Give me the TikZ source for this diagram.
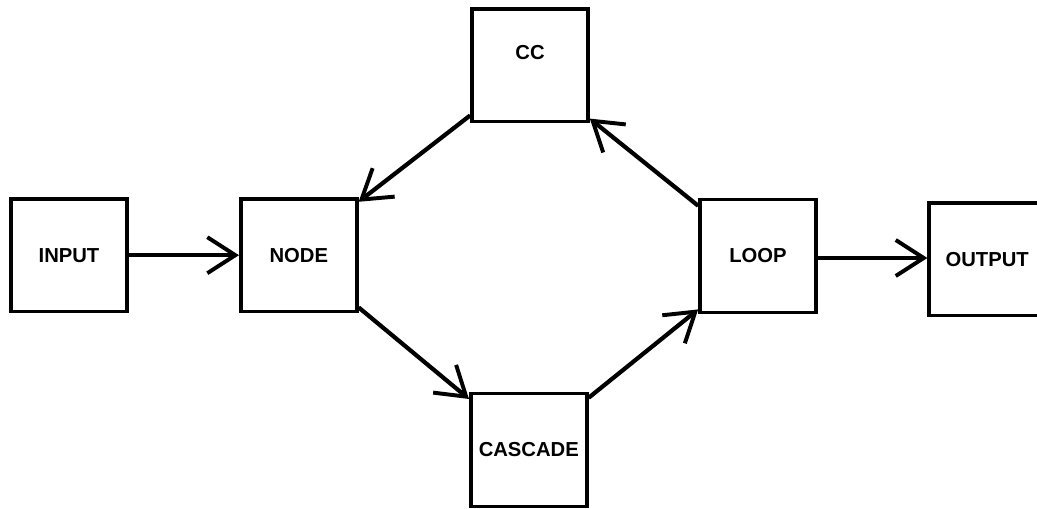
\documentclass[tikz,border=0pt]{standalone}
\usepackage{fontspec}
\setmainfont{Liberation Sans}
\usetikzlibrary{arrows.meta,positioning}

\begin{document}
\begin{tikzpicture}[
    box/.style={draw, rectangle, line width=2.6pt, minimum width=2.9cm, minimum height=2.82cm, font=\bfseries\Large},
    edge/.style={-{Straight Barb[length=0.7cm, width=0.9cm, line width=2.8pt]}, line width=3pt},
]
\useasboundingbox (0,0) rectangle (25.925,12.7);

% Boxes
\node[box] (input) at (1.725, 6.32) {INPUT};
\node[box] (node) at (7.47, 6.32) {NODE};
\node[box] (cc) at (13.25, 11.07) {\raisebox{0.65cm}{CC}};
\node[box] (cascade) at (13.22, 1.45) {CASCADE};
\node[box] (loop) at (18.95, 6.3) {LOOP};
\node[box] (output) at (24.68, 6.22) {OUTPUT};

% Edges
\draw[edge] (input) -- (node);
\draw[edge] ([yshift=0.2cm]cc.south west) -- ([yshift=-0.12cm]node.north east);
\draw[edge] ([yshift=-0.2cm]loop.north west) -- ([yshift=0.12cm]cc.south east);
\draw[edge] ([yshift=0.15cm]node.south east) -- ([yshift=-0.18cm]cascade.north west);
\draw[edge] ([yshift=-0.15cm]cascade.north east) -- ([yshift=0.12cm]loop.south west);
\draw[edge] ([yshift=-0.05cm]loop.east) -- ([yshift=-0.05cm]loop.east -| output.west);

\end{tikzpicture}
\end{document}
